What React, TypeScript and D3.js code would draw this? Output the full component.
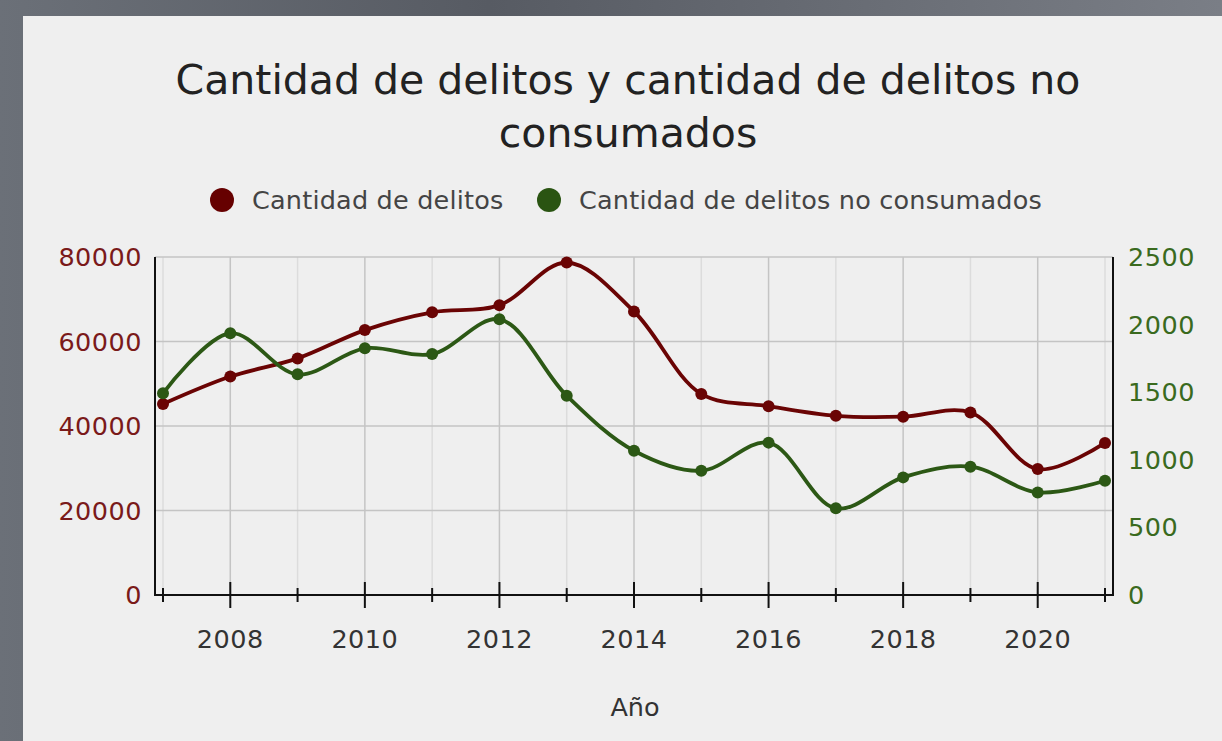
import React, { useEffect, useRef } from "react";
import * as d3 from "d3";

// values
const years = [2007, 2008, 2009, 2010, 2011, 2012, 2013, 2014, 2015, 2016, 2017, 2018, 2019, 2020, 2021];
const delitos = [45200, 51700, 56000, 62700, 66900, 68600, 78700, 67100, 47600, 44700, 42400, 42200, 43200, 29800, 36000];
const noConsumados = [1492, 1936, 1632, 1825, 1782, 2039, 1474, 1067, 919, 1127, 641, 870, 949, 759, 845];
const leftTicks = [0, 20000, 40000, 60000, 80000];
const rightTicks = [0, 500, 1000, 1500, 2000, 2500];
const xLabelYears = [2008, 2010, 2012, 2014, 2016, 2018, 2020];

const titleLines = ["Cantidad de delitos y cantidad de delitos no", "consumados"];
const legendNames = ["Cantidad de delitos", "Cantidad de delitos no consumados"];

const RED = "#6a0404";
const GREEN = "#2c5815";

const App = () => {
  const ref = useRef<SVGSVGElement>(null);

  useEffect(() => {
    const width = 1222;
    const height = 741;
    const plotLeft = 155;
    const plotRight = 1113;
    const plotTop = 257;
    const plotBottom = 595;
    const pad = 8;
    const font = "'DejaVu Sans', Verdana, sans-serif";

    const svg = d3.select(ref.current);
    svg.selectAll("*").remove();

    // background + panel
    const defs = svg.append("defs");
    const grad = defs.append("linearGradient").attr("id", "bg").attr("x1", 0).attr("y1", 0).attr("x2", 1).attr("y2", 0);
    grad.append("stop").attr("offset", "0%").attr("stop-color", "#6b7078");
    grad.append("stop").attr("offset", "40%").attr("stop-color", "#575b63");
    grad.append("stop").attr("offset", "100%").attr("stop-color", "#7a7e86");
    svg.append("rect").attr("width", width).attr("height", height).attr("fill", "url(#bg)");
    svg.append("rect").attr("x", 23).attr("y", 16).attr("width", width - 23).attr("height", height - 16).attr("fill", "#efefef");

    const x = d3.scaleLinear().domain([years[0], years[years.length - 1]]).range([plotLeft + pad, plotRight - pad]);
    const yL = d3.scaleLinear().domain([0, 80000]).range([plotBottom, plotTop]);
    const yR = d3.scaleLinear().domain([0, 2500]).range([plotBottom, plotTop]);

    // grid
    const grid = svg.append("g");
    grid.selectAll("line.v")
      .data(years)
      .join("line")
      .attr("x1", (d) => x(d))
      .attr("x2", (d) => x(d))
      .attr("y1", plotTop)
      .attr("y2", plotBottom)
      .attr("stroke", (d) => (d % 2 === 0 ? "#c4c4c4" : "#dcdcdc"))
      .attr("stroke-width", 1.5);
    grid.selectAll("line.h")
      .data(leftTicks)
      .join("line")
      .attr("x1", plotLeft)
      .attr("x2", plotRight)
      .attr("y1", (d) => yL(d))
      .attr("y2", (d) => yL(d))
      .attr("stroke", "#c4c4c4")
      .attr("stroke-width", 1.5);

    // axis lines
    svg.append("path")
      .attr("d", `M${plotLeft},${plotTop}V${plotBottom}H${plotRight}V${plotTop}`)
      .attr("fill", "none")
      .attr("stroke", "#111")
      .attr("stroke-width", 2);

    // x ticks
    svg.append("g")
      .selectAll("line")
      .data(years)
      .join("line")
      .attr("x1", (d) => x(d))
      .attr("x2", (d) => x(d))
      .attr("y1", (d) => plotBottom - (d % 2 === 0 ? 13 : 7))
      .attr("y2", (d) => plotBottom + (d % 2 === 0 ? 13 : 7))
      .attr("stroke", "#111")
      .attr("stroke-width", 2);

    svg.append("g")
      .selectAll("text")
      .data(xLabelYears)
      .join("text")
      .attr("x", (d) => x(d))
      .attr("y", 648)
      .attr("text-anchor", "middle")
      .attr("font-family", font)
      .attr("font-size", 25.5)
      .attr("letter-spacing", 0.5)
      .attr("fill", "#333")
      .text((d) => d);

    // y tick labels
    svg.append("g")
      .selectAll("text")
      .data(leftTicks)
      .join("text")
      .attr("x", 142)
      .attr("y", (d) => yL(d) + 9)
      .attr("text-anchor", "end")
      .attr("font-family", font)
      .attr("font-size", 25.5)
      .attr("letter-spacing", 0.5)
      .attr("fill", "#7a1a1a")
      .text((d) => d);

    svg.append("g")
      .selectAll("text")
      .data(rightTicks)
      .join("text")
      .attr("x", 1128)
      .attr("y", (d) => yR(d) + 9)
      .attr("text-anchor", "start")
      .attr("font-family", font)
      .attr("font-size", 25.5)
      .attr("letter-spacing", 0.5)
      .attr("fill", "#3a6a1e")
      .text((d) => d);

    // series
    const series = [
      { values: delitos, y: yL, color: RED },
      { values: noConsumados, y: yR, color: GREEN },
    ];
    series.forEach((s) => {
      const line = d3
        .line<number>()
        .x((_, i) => x(years[i]))
        .y((d) => s.y(d))
        .curve(d3.curveCatmullRom.alpha(0.5));
      svg.append("path")
        .attr("d", line(s.values))
        .attr("fill", "none")
        .attr("stroke", s.color)
        .attr("stroke-width", 3.8);
      svg.append("g")
        .selectAll("circle")
        .data(s.values)
        .join("circle")
        .attr("cx", (_, i) => x(years[i]))
        .attr("cy", (d) => s.y(d))
        .attr("r", 6)
        .attr("fill", s.color);
    });

    // title
    svg.append("g")
      .selectAll("text")
      .data(titleLines)
      .join("text")
      .attr("x", 628)
      .attr("y", (_, i) => 94 + i * 53)
      .attr("text-anchor", "middle")
      .attr("font-family", font)
      .attr("font-size", 41)
      .attr("fill", "#222")
      .text((d) => d);

    // legend
    const legendX = [222, 549];
    const lg = svg.append("g");
    legendNames.forEach((name, i) => {
      lg.append("circle")
        .attr("cx", legendX[i])
        .attr("cy", 200)
        .attr("r", 12)
        .attr("fill", i === 0 ? "#660000" : "#2a5412");
      lg.append("text")
        .attr("x", legendX[i] + 30)
        .attr("y", 209)
        .attr("font-family", font)
        .attr("font-size", 25.5)
        .attr("letter-spacing", 0.2)
        .attr("fill", "#444")
        .text(name);
    });

    // x axis title
    svg.append("text")
      .attr("x", 635)
      .attr("y", 716)
      .attr("text-anchor", "middle")
      .attr("font-family", font)
      .attr("font-size", 25.5)
      .attr("fill", "#333")
      .text("Año");
  }, []);

  return (
    <svg
      ref={ref}
      width={1222}
      height={741}
      style={{ position: "absolute", left: 0, top: 0, display: "block" }}
    ></svg>
  );
};

export default App;
